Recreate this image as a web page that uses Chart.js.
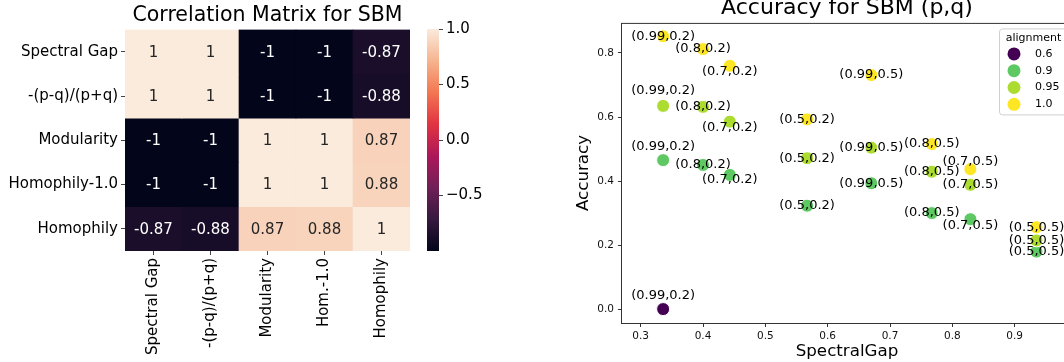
<!DOCTYPE html>
<html>
<head>
<meta charset="utf-8">
<script src="https://cdn.jsdelivr.net/npm/chart.js@4.4.0/dist/chart.umd.min.js"></script>
<style>
  html, body { margin: 0; padding: 0; background: #fff; }
  body { width: 1064px; height: 362px; overflow: hidden; position: relative; }
  canvas { position: absolute; top: 0; }
  #heat { left: 0; }
  #cbar { left: 400px; }
  #acc { left: 560px; }
</style>
</head>
<body>
<canvas id="heat" width="535" height="362"></canvas>
<canvas id="cbar" width="100" height="362"></canvas>
<canvas id="acc" width="574" height="362"></canvas>
<script>
// Correlation between the measures (rows top to bottom, columns left to right)
var measures = ['Spectral Gap', '-(p-q)/(p+q)', 'Modularity', 'Homophily-1.0', 'Homophily'];
var measureTicks = ['Spectral Gap', '-(p-q)/(p+q)', 'Modularity', 'Hom.-1.0', 'Homophily'];
var corrSpectral = [1, 1, -1, -1, -0.87];
var corrPQ = [1, 1, -1, -1, -0.88];
var corrModularity = [-1, -1, 1, 1, 0.87];
var corrHom10 = [-1, -1, 1, 1, 0.88];
var corrHomophily = [-0.87, -0.88, 0.87, 0.88, 1];
var corrRows = [corrSpectral, corrPQ, corrModularity, corrHom10, corrHomophily];
var cbarTicks = [-0.5, 0, 0.5, 1];

// Accuracy per (p,q) pair, one list per alignment value
var pairs = ['(0.99,0.2)', '(0.8,0.2)', '(0.7,0.2)', '(0.5,0.2)', '(0.99,0.5)', '(0.8,0.5)', '(0.7,0.5)', '(0.5,0.5)'];
var spectralGap = [0.336, 0.400, 0.443, 0.567, 0.670, 0.767, 0.829, 0.935];
var alignments = [0.6, 0.9, 0.95, 1.0];
var acc060 = [0.002, null, null, null, null, null, null, null];
var acc090 = [0.466, 0.451, 0.420, 0.324, 0.394, 0.301, 0.282, 0.181];
var acc095 = [0.635, 0.632, 0.586, 0.472, 0.505, 0.430, 0.389, 0.216];
var acc100 = [0.852, 0.812, 0.760, 0.593, 0.731, 0.516, 0.438, 0.257];
var accuracy = [acc060, acc090, acc095, acc100];
var xTicks = [0.3, 0.4, 0.5, 0.6, 0.7, 0.8, 0.9];
var yTicks = [0.0, 0.2, 0.4, 0.6, 0.8];

// vertical nudge (px) of each (p,q) annotation so they don't pile up
var labelNudge = [
  [-13, 0, 0, 0, 0, 0, 0, 0],
  [-14, 0, 5, 0, 0, 0, 6, 0],
  [-15, 0, 6, 0, 0, 0, 0, 0],
  [0, 0, 6, 0, 0, 0, -8, 0]
];
var alignColors = ['#440154', '#5ec962', '#addc30', '#fde725'];

Chart.defaults.font.family = '"DejaVu Sans", sans-serif';
Chart.defaults.color = '#000';

// rocket colormap
var rocketStops = [
  [0, [3, 5, 26]], [1 / 7, [53, 25, 62]], [2 / 7, [112, 31, 87]], [3 / 7, [173, 23, 89]],
  [4 / 7, [225, 51, 66]], [5 / 7, [243, 118, 81]], [6 / 7, [246, 180, 143]], [1, [250, 235, 221]]
];
function rocket(t) {
  t = Math.max(0, Math.min(1, t));
  for (var i = 1; i < rocketStops.length; i++) {
    if (t <= rocketStops[i][0]) {
      var a = rocketStops[i - 1], b = rocketStops[i];
      var f = (t - a[0]) / (b[0] - a[0]);
      var c = a[1].map(function(v, k) { return Math.round(v + (b[1][k] - v) * f); });
      return 'rgb(' + c.join(',') + ')';
    }
  }
  return 'rgb(250,235,221)';
}
function corrColor(v) { return rocket((v + 1) / 2); }

// value written in the middle of every cell
var cellText = {
  id: 'cellText',
  afterDatasetsDraw: function(chart) {
    var ctx = chart.ctx;
    ctx.save();
    ctx.font = '15px "DejaVu Sans"';
    ctx.textAlign = 'center';
    ctx.textBaseline = 'middle';
    chart.data.datasets.forEach(function(ds, i) {
      chart.getDatasetMeta(i).data.forEach(function(bar, j) {
        var v = corrRows[i][j];
        ctx.fillStyle = v > 0 ? '#262626' : '#fff';
        ctx.fillText(String(v), bar.x, (bar.y + bar.base) / 2 + 1);
      });
    });
    ctx.restore();
  }
};

new Chart(document.getElementById('heat'), {
  type: 'bar',
  data: {
    labels: measureTicks,
    datasets: corrRows.map(function(row, i) {
      return {
        label: measures[i],
        data: row.map(function() { return 1; }),
        backgroundColor: row.map(corrColor),
        borderWidth: 0,
        barPercentage: 1,
        categoryPercentage: 1
      };
    })
  },
  options: {
    responsive: false,
    animation: false,
    layout: { padding: { right: 125 } },
    plugins: {
      legend: { display: false },
      tooltip: { enabled: false },
      title: {
        display: true,
        fullSize: false,
        text: 'Correlation Matrix for SBM',
        font: { size: 20.5, weight: 'normal' },
        color: '#000',
        padding: { top: 3, bottom: 2 }
      }
    },
    scales: {
      x: {
        stacked: true,
        grid: { offset: false, drawOnChartArea: false, tickLength: 4, color: '#444' },
        border: { display: false },
        ticks: { minRotation: 90, maxRotation: 90, autoSkip: false, font: { size: 15 }, color: '#000', padding: 3 },
        afterFit: function(s) { s.height = 111; }
      },
      y: {
        stacked: true,
        reverse: true,
        min: 0,
        max: 5,
        afterBuildTicks: function(s) {
          s.ticks = measures.map(function(m, i) { return { value: i + 0.5 }; });
        },
        ticks: {
          callback: function(v) { return measures[Math.floor(v)]; },
          font: { size: 15 },
          color: '#000',
          padding: 3
        },
        grid: { drawOnChartArea: false, tickLength: 4, color: '#444' },
        border: { display: false },
        afterFit: function(s) { s.width = 125; }
      }
    }
  },
  plugins: [cellText]
});

// colorbar
new Chart(document.getElementById('cbar'), {
  type: 'bar',
  data: {
    labels: [''],
    datasets: [{
      data: [[-1, 1]],
      backgroundColor: function(c) {
        var chart = c.chart, y = chart.scales.y;
        if (!chart.chartArea || !y) return '#888';
        var g = chart.ctx.createLinearGradient(0, y.getPixelForValue(-1), 0, y.getPixelForValue(1));
        rocketStops.forEach(function(s) { g.addColorStop(s[0], 'rgb(' + s[1].join(',') + ')'); });
        return g;
      },
      borderWidth: 0,
      barPercentage: 1,
      categoryPercentage: 1
    }]
  },
  options: {
    responsive: false,
    animation: false,
    layout: { padding: { left: 27, top: 29, bottom: 111 } },
    plugins: { legend: { display: false }, tooltip: { enabled: false } },
    scales: {
      x: { display: false },
      y: {
        position: 'right',
        min: -1,
        max: 1,
        afterBuildTicks: function(s) {
          s.ticks = cbarTicks.map(function(v) { return { value: v }; });
        },
        ticks: {
          callback: function(v) { return v.toFixed(1).replace('-', '\u2212'); },
          font: { size: 15 },
          color: '#000',
          padding: 3
        },
        grid: { drawOnChartArea: false, tickLength: 4, color: '#444' },
        border: { display: false },
        afterFit: function(s) { s.width = 61; }
      }
    }
  }
});

// (p,q) annotation next to each point
var pairText = {
  id: 'pairText',
  afterDatasetsDraw: function(chart) {
    var ctx = chart.ctx;
    ctx.save();
    ctx.font = '13px "DejaVu Sans"';
    ctx.textAlign = 'center';
    ctx.textBaseline = 'middle';
    ctx.fillStyle = '#000';
    accuracy.forEach(function(list, k) {
      chart.getDatasetMeta(k).data.forEach(function(pt, j) {
        if (list[j] === null) return;
        ctx.fillText(pairs[j], pt.x, pt.y + labelNudge[k][j]);
      });
    });
    ctx.restore();
  }
};

// axes frame and the alignment legend
var frameAndLegend = {
  id: 'frameAndLegend',
  afterDraw: function(chart) {
    var ctx = chart.ctx, a = chart.chartArea;
    ctx.save();
    ctx.strokeStyle = '#333';
    ctx.lineWidth = 1;
    ctx.strokeRect(a.left - 0.5, a.top + 0.5, a.right - a.left + 1, a.bottom - a.top);

    var w = 69, h = 86, x0 = a.right - 4 - w, y0 = a.top + 5.5;
    ctx.beginPath();
    ctx.roundRect(x0 + 0.5, y0 + 0.5, w, h, 3);
    ctx.fillStyle = 'rgba(255,255,255,0.8)';
    ctx.fill();
    ctx.strokeStyle = '#d0d0d0';
    ctx.stroke();

    ctx.font = '11px "DejaVu Sans"';
    ctx.textBaseline = 'middle';
    ctx.fillStyle = '#000';
    ctx.textAlign = 'center';
    ctx.fillText('alignment', x0 + w / 2, y0 + 10);
    ctx.textAlign = 'left';
    alignments.forEach(function(al, k) {
      var cy = y0 + 25.5 + k * 16.8;
      ctx.beginPath();
      ctx.arc(x0 + 15, cy, 6.5, 0, Math.PI * 2);
      ctx.fillStyle = alignColors[k];
      ctx.fill();
      ctx.fillStyle = '#000';
      ctx.fillText(String(al).length < 3 ? al.toFixed(1) : String(al), x0 + 36, cy);
    });
    ctx.restore();
  }
};

new Chart(document.getElementById('acc'), {
  type: 'scatter',
  data: {
    datasets: alignments.map(function(al, k) {
      return {
        label: String(al),
        data: spectralGap.map(function(x, i) { return { x: x, y: accuracy[k][i] }; }),
        backgroundColor: alignColors[k],
        borderColor: '#fff',
        borderWidth: 1,
        pointRadius: 6.5,
        pointHoverRadius: 6.5,
        order: -k
      };
    })
  },
  options: {
    responsive: false,
    animation: false,
    layout: { padding: { right: 62 } },
    plugins: {
      legend: { display: false },
      tooltip: { enabled: false },
      title: {
        display: true,
        fullSize: false,
        text: 'Accuracy for SBM (p,q)',
        font: { size: 22, weight: 'normal' },
        color: '#000',
        padding: { top: -5, bottom: 1.5 }
      }
    },
    scales: {
      x: {
        type: 'linear',
        min: 0.27,
        max: 0.992,
        afterBuildTicks: function(s) {
          s.ticks = xTicks.map(function(v) { return { value: v }; });
        },
        ticks: {
          callback: function(v) { return v.toFixed(1); },
          font: { size: 10.5 },
          color: '#111',
          padding: 3
        },
        grid: { drawOnChartArea: false, tickLength: 4, color: '#333' },
        border: { display: false },
        title: { display: true, text: 'SpectralGap', font: { size: 16.7 }, color: '#000', padding: { top: 0, bottom: 0 } },
        afterFit: function(s) { s.height = 39; }
      },
      y: {
        min: -0.0414,
        max: 0.8936,
        afterBuildTicks: function(s) {
          s.ticks = yTicks.map(function(v) { return { value: v }; });
        },
        ticks: {
          callback: function(v) { return v.toFixed(1); },
          font: { size: 10.5 },
          color: '#111',
          padding: 4
        },
        grid: { drawOnChartArea: false, tickLength: 4, color: '#333' },
        border: { display: false },
        title: { display: true, text: 'Accuracy', font: { size: 16.7 }, color: '#000', padding: { top: 14, bottom: 0 } },
        afterFit: function(s) { s.width = 62; }
      }
    }
  },
  plugins: [pairText, frameAndLegend]
});
</script>
</body>
</html>
